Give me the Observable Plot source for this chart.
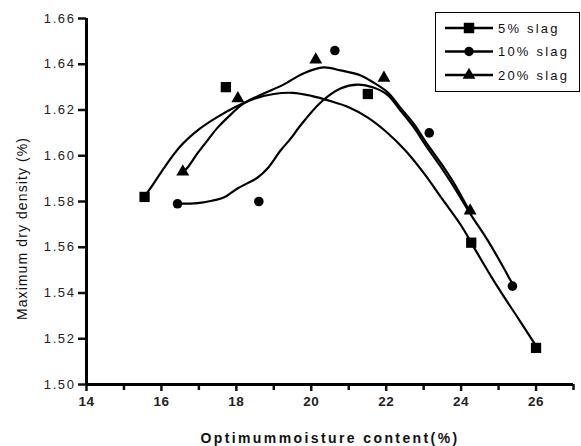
<!DOCTYPE html>
<html>
<head>
<meta charset="utf-8">
<script src="https://cdn.jsdelivr.net/npm/d3@7"></script>
<script src="https://cdn.jsdelivr.net/npm/@observablehq/plot@0.6"></script>
<style>
  html, body { margin: 0; padding: 0; background: #fff; }
  #wrap { position: relative; width: 581px; height: 446px; }
  #legend { position: absolute; left: 435px; top: 12px; width: 143px; height: 78px; border: 1px solid #000; background: #fff; }
</style>
</head>
<body>
<div id="wrap"><div id="legend"></div></div>
<script>
// ---- tick labels ----
const xTicks = [14, 16, 18, 20, 22, 24, 26];
const xMinorTicks = [15, 17, 19, 21, 23, 25, 27];
const yTicks = [1.50, 1.52, 1.54, 1.56, 1.58, 1.60, 1.62, 1.64, 1.66];

// ---- series names ----
const seriesNames = ["5% slag", "10% slag", "20% slag"];

// ---- measured points ----
const slag5X = [15.55, 17.72, 21.51, 24.27, 26.0];
const slag5Y = [1.582, 1.630, 1.627, 1.562, 1.516];
const slag10X = [16.43, 18.60, 20.63, 23.15, 25.37];
const slag10Y = [1.579, 1.580, 1.646, 1.610, 1.543];
const slag20X = [16.57, 18.04, 20.12, 21.94, 24.24];
const slag20Y = [1.593, 1.625, 1.642, 1.634, 1.576];

// ---- fitted curves ----
const fit5X = [15.55, 15.75, 16.0, 16.5, 17.0, 17.5, 18.0, 18.5, 19.0, 19.5, 20.0, 20.5, 21.0, 21.5, 22.0, 22.5, 23.0, 23.5, 24.0, 24.5, 25.0, 25.5, 25.96];
const fit5Y = [1.5822, 1.5868, 1.5930, 1.6040, 1.6115, 1.6170, 1.6215, 1.6250, 1.6270, 1.6275, 1.6262, 1.6240, 1.6212, 1.6168, 1.6105, 1.6025, 1.5925, 1.5810, 1.5695, 1.5555, 1.5420, 1.5295, 1.5179];
const fit10X = [16.43, 16.78, 17.12, 17.66, 18.03, 18.57, 18.83, 19.18, 19.45, 19.71, 20.25, 20.78, 21.24, 21.66, 22.04, 22.38, 22.73, 23.05, 23.45, 23.80, 24.25, 24.71, 24.98, 25.38];
const fit10Y = [1.5791, 1.5791, 1.5796, 1.5817, 1.5857, 1.5905, 1.5944, 1.6023, 1.6075, 1.6132, 1.6233, 1.6294, 1.6311, 1.6298, 1.6265, 1.6198, 1.6126, 1.6046, 1.5953, 1.5866, 1.5745, 1.5630, 1.5555, 1.5437];
const fit20X = [16.56, 16.70, 16.96, 17.23, 17.50, 17.85, 18.19, 18.73, 19.26, 19.79, 20.33, 20.78, 21.32, 21.66, 22.04, 22.38, 22.73, 23.05, 23.45, 23.80, 24.23];
const fit20Y = [1.5927, 1.5949, 1.6010, 1.6067, 1.6123, 1.6180, 1.6228, 1.6272, 1.6311, 1.6360, 1.6386, 1.6373, 1.6351, 1.6320, 1.6277, 1.6210, 1.6141, 1.6062, 1.5970, 1.5883, 1.5756];

const zipXY = (xs, ys) => xs.map((x, i) => ({x, y: ys[i]}));

const lineOpts = {x: "x", y: "y", curve: "catmull-rom", stroke: "#000", strokeWidth: 2.2};

const chart = Plot.plot({
  width: 581,
  height: 446,
  marginLeft: 86,
  marginRight: 8,
  marginTop: 18,
  marginBottom: 62,
  x: {domain: [14, 27]},
  y: {domain: [1.50, 1.66]},
  style: {fontFamily: "'Liberation Sans', Arial, sans-serif", fontSize: "12px", color: "#111", background: "#fff"},
  marks: [
    Plot.axisX({ticks: xTicks, tickSize: 7, tickPadding: 5, tickFormat: d => String(d), strokeWidth: 2.5,
      label: "Optimummoisture content(%)", labelAnchor: "center", labelOffset: 58, labelArrow: "none"}),
    Plot.axisX({ticks: xMinorTicks, tickSize: 6, tickFormat: () => "", strokeWidth: 2.5, label: null}),
    Plot.axisY({ticks: yTicks, tickSize: 8, tickPadding: 3, tickFormat: d3.format(".2f"), strokeWidth: 2.5,
      label: "Maximum dry density (%)", labelAnchor: "center", labelOffset: 69, labelArrow: "none"}),
    Plot.ruleX([14], {stroke: "#000", strokeWidth: 3}),
    Plot.ruleY([1.50], {stroke: "#000", strokeWidth: 3}),
    Plot.line(zipXY(fit5X, fit5Y), lineOpts),
    Plot.line(zipXY(fit10X, fit10Y), lineOpts),
    Plot.line(zipXY(fit20X, fit20Y), lineOpts),
    Plot.dot(zipXY(slag5X, slag5Y), {x: "x", y: "y", symbol: "square", r: 5.8, fill: "#000", stroke: "none"}),
    Plot.dot(zipXY(slag10X, slag10Y), {x: "x", y: "y", symbol: "circle", r: 4.8, fill: "#000", stroke: "none"}),
    Plot.dot(zipXY(slag20X, slag20Y), {x: "x", y: "y", symbol: "triangle", r: 4.8, fill: "#000", stroke: "none"})
  ]
});

const svgSel = d3.select(chart);
svgSel.selectAll('g[aria-label="y-axis tick label"] text')
  .style("font-size", "13px").style("letter-spacing", "1.6px").style("fill", "#222");
svgSel.selectAll('g[aria-label="x-axis tick label"] text')
  .style("font-size", "13.5px").style("font-weight", "bold").style("letter-spacing", "0.5px").style("fill", "#222");
svgSel.selectAll('g[aria-label="x-axis label"] text')
  .style("font-size", "14px").style("font-weight", "bold").style("letter-spacing", "2.4px").style("fill", "#111");
svgSel.selectAll('g[aria-label="y-axis label"]').each(function() {
  const g = d3.select(this);
  const t = g.attr("transform") || "";
  g.attr("transform", `translate(0,27) ${t}`);
});
svgSel.selectAll('g[aria-label="y-axis label"] text')
  .style("font-size", "14px").style("letter-spacing", "1.1px").style("fill", "#111");

document.getElementById("wrap").prepend(chart);

// ---- legend ----
const symbols = [d3.symbolSquare, d3.symbolCircle, d3.symbolTriangle];
const symSizes = [110, 70, 70];
const lg = d3.select("#legend").append("svg").attr("width", 143).attr("height", 78)
  .style("font-family", "'Liberation Sans', Arial, sans-serif");
seriesNames.forEach((name, i) => {
  const cy = 15 + i * 23.5;
  const g = lg.append("g");
  g.append("line").attr("x1", 9).attr("x2", 57).attr("y1", cy).attr("y2", cy)
    .attr("stroke", "#000").attr("stroke-width", 2.5);
  g.append("path").attr("d", d3.symbol(symbols[i], symSizes[i])())
    .attr("transform", `translate(33,${cy})`).attr("fill", "#000");
  g.append("text").attr("x", 62).attr("y", cy).attr("dy", "0.35em")
    .attr("font-size", 13).attr("letter-spacing", "2.2px").attr("fill", "#111").text(name);
});
</script>
</body>
</html>
